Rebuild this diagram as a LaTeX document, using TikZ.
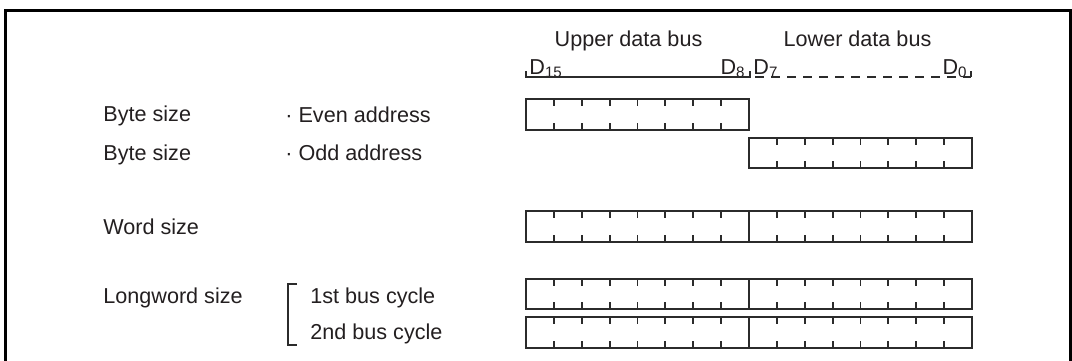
\documentclass[tikz,border=0pt]{standalone}
\usepackage{fontspec}
\setmainfont{Liberation Sans}
\usepackage{tikz}
\usetikzlibrary{positioning, calc}
\definecolor{inkcolor}{HTML}{231F20}
\definecolor{rulecolor}{HTML}{2B2B2B}

\begin{document}
\begin{tikzpicture}[x=0.5pt, y=-0.5pt,
    lbl/.style={inner sep=0pt, anchor=base west, text=inkcolor,
                font=\fontsize{10.8}{12}\selectfont},
    bytebox/.style={draw=rulecolor, line width=1pt, minimum width=111.5pt,
                    minimum height=15.25pt, inner sep=0pt, outer sep=0pt}]
  \useasboundingbox (0,0) rectangle (1072,360);
  \draw[line width=1.5pt, black] (5,370) -- (5,10) -- (1070,10) -- (1070,370);

  \node[lbl, anchor=base] (upper) at (628.5,46) {Upper data bus};
  \node[lbl, anchor=base] (lower) at (857.5,46) {Lower data bus};
  \node[lbl] (d15) at (529,74) {D\textsubscript{15}};
  \node[lbl, anchor=base east] (d8) at (746,74) {D\textsubscript{8}};
  \node[lbl] (d7) at (753,74) {D\textsubscript{7}};
  \node[lbl, anchor=base east] (d0) at (968,74) {D\textsubscript{0}};
  \coordinate (busl) at (526,77);
  \coordinate (busm) at (750,77);
  \coordinate (busr) at (971,77);
  \draw[rulecolor, line width=0.8pt] (busl) ++(0,-6) -- (busl) -- (busm) -- ++(0,-6);
  \draw[rulecolor, line width=0.8pt, dash pattern=on 4.5pt off 3.5pt] ($(busm)+(5,0)$) -- (busr);
  \draw[rulecolor, line width=0.8pt] (busr) -- ++(0,-6);

  \node[lbl] (byteeven) at (103,121) {Byte size};
  \node[lbl] (even) at (285,122) {· Even address};
  \node[lbl] (byteodd) at (103,160) {Byte size};
  \node[lbl] (odd) at (285,160) {· Odd address};
  \node[lbl] (word) at (103,234) {Word size};
  \node[lbl] (lword) at (103,303) {Longword size};
  \node[lbl] (cyc1) at (310,303) {1st bus cycle};
  \node[lbl] (cyc2) at (310,339) {2nd bus cycle};
  \draw[rulecolor, line width=0.8pt] (297,284) -| (288,345) -- (297,345);

  \foreach \nm/\x/\y in {evenhi/637.5/114.5, oddlo/860.5/153,
      wordhi/637.5/226.5, wordlo/860.5/226.5, lwahi/637.5/294,
      lwalo/860.5/294, lwbhi/637.5/332.5, lwblo/860.5/332.5} {
    \node[bytebox] (\nm) at (\x,\y) {};
    \foreach \k in {1,...,7} {
      \draw[rulecolor, line width=0.9pt]
        ($(\nm.north west)!\k/8!(\nm.north east)$) -- ++(0,7);
      \draw[rulecolor, line width=0.9pt]
        ($(\nm.south west)!\k/8!(\nm.south east)$) -- ++(0,-7);
    }
  }
\end{tikzpicture}
\end{document}
